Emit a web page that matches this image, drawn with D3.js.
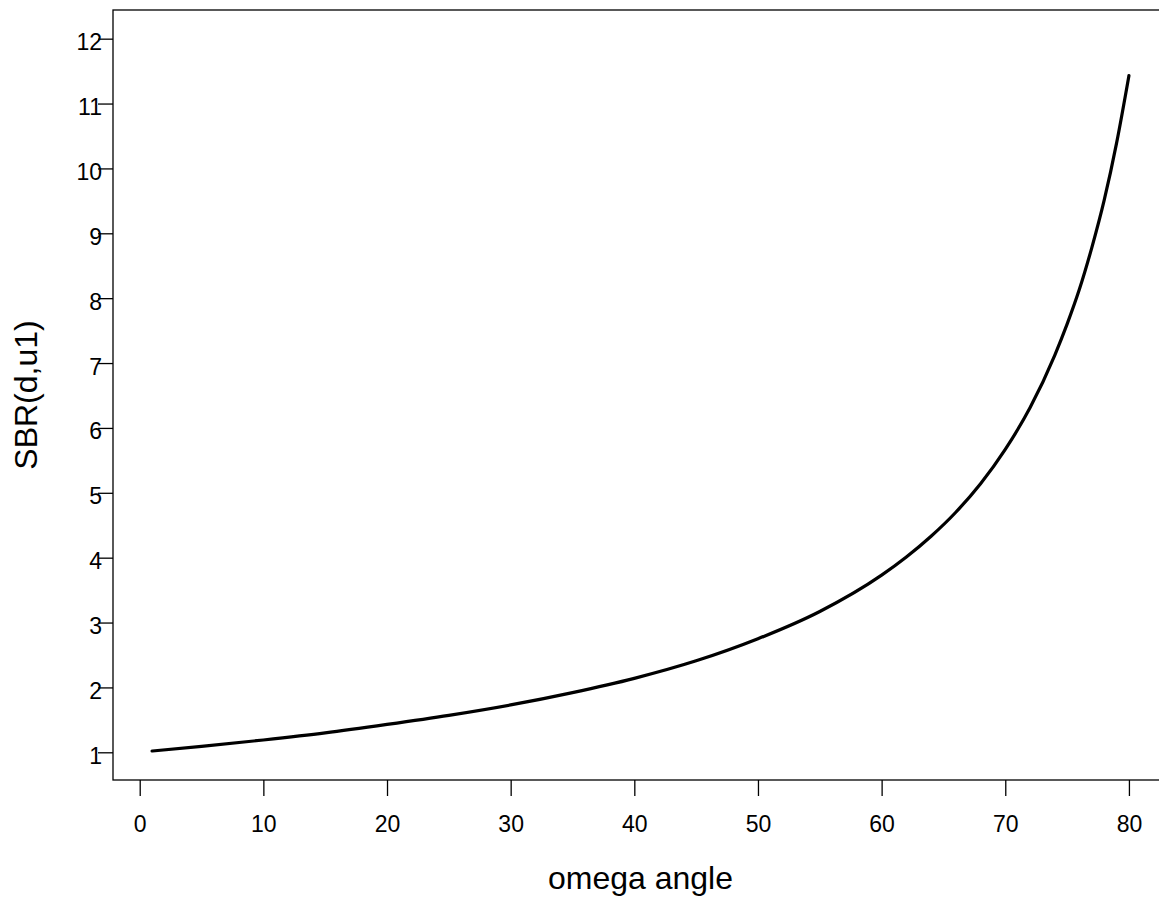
<!DOCTYPE html>
<html>
<head>
<meta charset="utf-8">
<script src="https://cdn.jsdelivr.net/npm/d3@7"></script>
<style>
  html, body { margin: 0; padding: 0; background: #fff; }
  svg { display: block; }
  text { font-family: "Liberation Sans", Arial, sans-serif; fill: #000; }
</style>
</head>
<body>
<svg id="viz"></svg>
<script>
// values
var omega = [1, 5, 10, 15, 20, 25, 30, 35, 40, 45, 50, 55, 60, 62, 64, 66, 68, 70, 72, 74, 75, 76, 77, 78, 79, 80];
var sbr = [1.02, 1.09, 1.19, 1.30, 1.43, 1.57, 1.73, 1.92, 2.14, 2.41, 2.75, 3.17, 3.73, 4.01, 4.33, 4.70, 5.14, 5.67, 6.31, 7.12, 7.60, 8.14, 8.78, 9.51, 10.39, 11.43];
var xTicks = [0, 10, 20, 30, 40, 50, 60, 70, 80];
var yTicks = [1, 2, 3, 4, 5, 6, 7, 8, 9, 10, 11, 12];

var width = 1159;
var height = 898;

// plot box (right edge runs past the window, as in the original)
var box = { left: 113, top: 10, right: 1168, bottom: 780 };

var svg = d3.select('#viz')
            .attr('width', width)
            .attr('height', height);

var xScale = d3.scaleLinear()
               .domain([-2.16, 83.16])
               .range([box.left, box.right]);

var yScale = d3.scaleLinear()
               .domain([0.573, 12.442])
               .range([box.bottom, box.top]);

// frame
svg.append('rect')
   .attr('x', box.left)
   .attr('y', box.top)
   .attr('width', box.right - box.left)
   .attr('height', box.bottom - box.top)
   .attr('fill', 'none')
   .attr('stroke', '#000')
   .attr('stroke-width', 1.3);

// x axis
var xAxis = d3.axisBottom(xScale)
              .tickValues(xTicks)
              .tickSize(16)
              .tickFormat(d3.format('d'));

var gx = svg.append('g')
            .attr('transform', `translate(0, ${box.bottom})`)
            .call(xAxis);
gx.select('.domain').remove();
gx.selectAll('.tick line').attr('stroke', '#000').attr('stroke-width', 1.3);
gx.selectAll('.tick text')
  .attr('font-size', 23)
  .attr('font-family', '"Liberation Sans", Arial, sans-serif')
  .attr('dy', null)
  .attr('y', 52);

// y axis
var yAxis = d3.axisLeft(yScale)
              .tickValues(yTicks)
              .tickSize(15)
              .tickFormat(d3.format('d'));

var gy = svg.append('g')
            .attr('transform', `translate(${box.left}, 0)`)
            .call(yAxis);
gy.select('.domain').remove();
gy.selectAll('.tick line').attr('stroke', '#000').attr('stroke-width', 1.3);
gy.selectAll('.tick text')
  .attr('font-size', 23)
  .attr('font-family', '"Liberation Sans", Arial, sans-serif')
  .attr('x', -11)
  .attr('dy', null)
  .attr('y', 11)
  .attr('text-anchor', 'end');

// curve
var points = omega.map((d, i) => [d, sbr[i]]);
var line = d3.line()
             .x(d => xScale(d[0]))
             .y(d => yScale(d[1]))
             .curve(d3.curveMonotoneX);

svg.append('path')
   .datum(points)
   .attr('d', line)
   .attr('fill', 'none')
   .attr('stroke', '#000')
   .attr('stroke-width', 3.2)
   .attr('stroke-linecap', 'round')
   .attr('stroke-linejoin', 'round');

// axis titles
svg.append('text')
   .attr('x', (box.left + box.right) / 2)
   .attr('y', 889)
   .attr('text-anchor', 'middle')
   .attr('font-size', 32)
   .text('omega angle');

svg.append('text')
   .attr('transform', `translate(37, ${(box.top + box.bottom) / 2}) rotate(-90)`)
   .attr('text-anchor', 'middle')
   .attr('font-size', 32)
   .text('SBR(d,u1)');
</script>
</body>
</html>
